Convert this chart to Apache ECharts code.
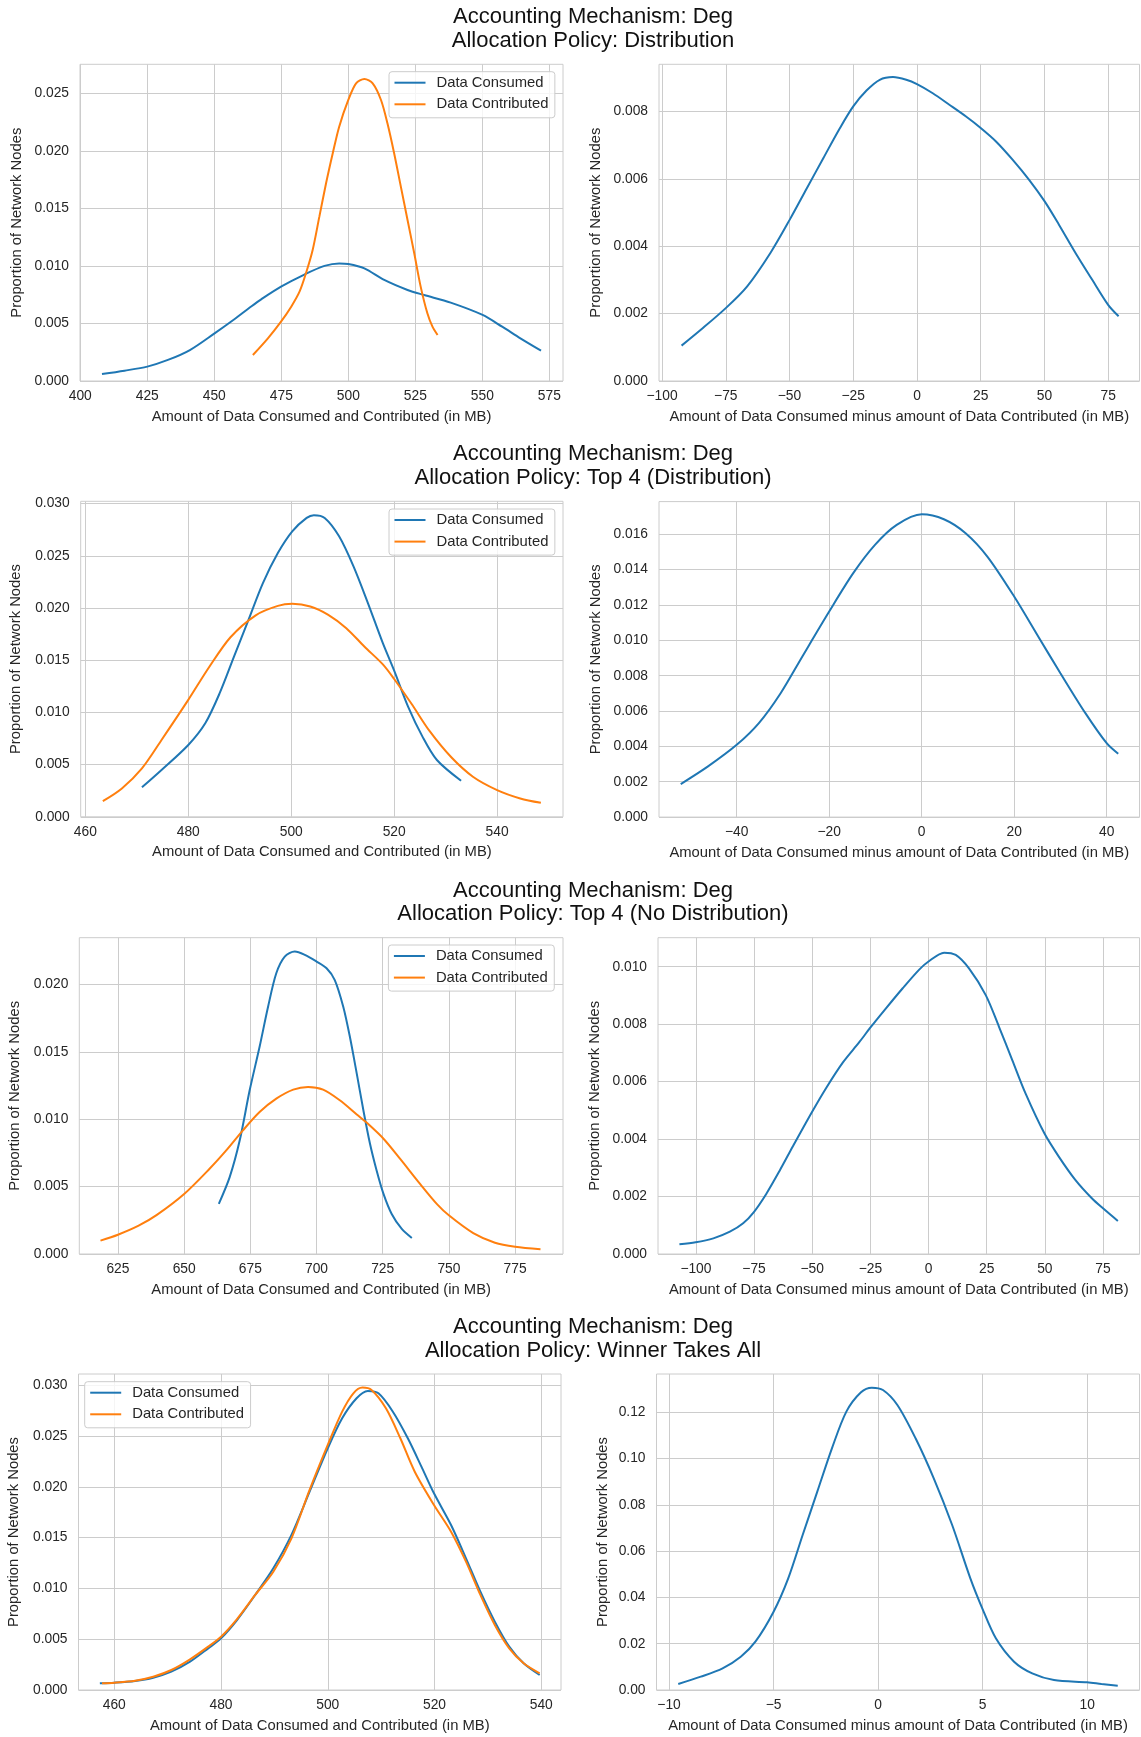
<!DOCTYPE html>
<html><head><meta charset="utf-8">
<script src="https://cdn.jsdelivr.net/npm/echarts@6/dist/echarts.min.js"></script>
<style>html,body{margin:0;padding:0;background:#fff}#c{width:1141px;height:1737px}</style>
</head><body><div id="c"></div><script>
// ---------------- data ----------------
const seriesNames = ['Data Consumed', 'Data Contributed'];
const titles = [
  'Accounting Mechanism: Deg\nAllocation Policy: Distribution',
  'Accounting Mechanism: Deg\nAllocation Policy: Top 4 (Distribution)',
  'Accounting Mechanism: Deg\nAllocation Policy: Top 4 (No Distribution)',
  'Accounting Mechanism: Deg\nAllocation Policy: Winner Takes All'
];
const xNameLeft = 'Amount of Data Consumed and Contributed (in MB)';
const xNameRight = 'Amount of Data Consumed minus amount of Data Contributed (in MB)';
const yName = 'Proportion of Network Nodes';

// Row 1: Distribution
const p1_consumed_x = [408.1,416.5,425.0,432.7,440.9,450.1,457.1,463.9,467.5,474.9,483.6,491.1,496.6,500.0,506.0,513.4,522.1,528.3,538.2,550.1,557.4,564.2,571.9];
const p1_consumed_y = [0.00061,0.0009,0.00125,0.00183,0.00269,0.00414,0.0053,0.0065,0.0071,0.0082,0.00925,0.0100,0.01022,0.01017,0.00979,0.00878,0.00791,0.00747,0.00681,0.00574,0.00472,0.00371,0.00264];
const p1_contributed_x = [464.4,470.0,474.9,478.7,481.8,484.2,486.7,489.2,491.7,494.2,496.6,500.0,502.9,506.0,509.1,512.2,514.6,517.1,519.6,522.1,524.6,527.0,529.5,531.4,533.3];
const p1_contributed_y = [0.00226,0.00371,0.00516,0.00646,0.00776,0.00936,0.01138,0.01428,0.01718,0.01979,0.0221,0.02442,0.02587,0.02625,0.02587,0.02442,0.02239,0.01979,0.01689,0.01399,0.0111,0.0082,0.00588,0.00472,0.004];
const p1_diff_x = [-92.35,-84.8,-74.9,-66.6,-57.5,-49.9,-43.2,-36.7,-30.2,-25.0,-19.8,-14.6,-9.4,-4.2,0.0,6.2,12.7,19.25,25.0,31.0,37.5,44.0,50.1,55.7,62.2,68.7,75.0,79.1];
const p1_diff_y = [0.00105,0.00152,0.00217,0.00281,0.0038,0.00479,0.00572,0.00662,0.00751,0.00815,0.00862,0.00894,0.00902,0.00894,0.00881,0.00854,0.0082,0.00785,0.00751,0.00711,0.00657,0.00597,0.00533,0.00464,0.0038,0.00301,0.00226,0.00192];

// Row 2: Top 4 (Distribution)
const p2_consumed_x = [471.0,474.8,480.0,483.3,486.1,488.9,491.7,494.5,497.4,500.2,503.0,504.4,506.5,509.3,512.1,514.9,517.8,520.0,522.7,525.5,528.3,533.0];
const p2_consumed_y = [0.00282,0.00448,0.00688,0.00896,0.01184,0.01536,0.01887,0.02239,0.02527,0.02735,0.02863,0.02889,0.02863,0.02687,0.02399,0.02047,0.01663,0.0140,0.01056,0.00768,0.00544,0.00345];
const p2_contributed_x = [463.4,467.1,471.0,474.8,480.0,484.0,488.2,493.1,497.4,500.2,503.7,507.2,510.7,514.2,517.8,520.0,523.4,526.9,531.1,535.3,540.0,544.5,548.5];
const p2_contributed_y = [0.0015,0.00272,0.00464,0.00736,0.0112,0.0143,0.0172,0.0193,0.0202,0.0204,0.02015,0.01935,0.01807,0.01631,0.0146,0.0132,0.0108,0.0082,0.0057,0.00384,0.00256,0.00176,0.00134];
const p2_diff_x = [-52.1,-46.2,-40.0,-35.2,-30.5,-25.8,-20.0,-14.8,-10.1,-5.4,0.0,4.8,9.5,14.2,20.0,25.2,30.0,35.4,40.0,42.5];
const p2_diff_y = [0.00187,0.00287,0.00409,0.00532,0.00701,0.00909,0.01163,0.0138,0.0154,0.01653,0.01713,0.01685,0.01606,0.01474,0.01248,0.01022,0.00814,0.00588,0.00418,0.00358];

// Row 3: Top 4 (No Distribution)
const p3_consumed_x = [663.1,667.2,671.0,674.75,678.5,681.7,684.8,688.0,691.8,695.6,700.0,703.8,706.9,710.1,712.6,715.2,717.7,720.2,722.7,725.3,728.4,732.2,736.0];
const p3_consumed_y = [0.00372,0.0057,0.00843,0.01214,0.01537,0.01834,0.02082,0.02206,0.02243,0.02218,0.02169,0.02119,0.02032,0.01834,0.01611,0.01338,0.01066,0.00818,0.0062,0.00446,0.00297,0.00186,0.00119];
const p3_contributed_x = [618.4,625.0,632.8,639.7,650.0,659.6,665.9,672.2,678.5,684.8,691.2,696.8,702.5,708.8,715.2,718.9,725.3,731.6,739.1,745.5,750.1,759.2,767.4,775.0,784.6];
const p3_contributed_y = [0.00099,0.00143,0.0021,0.0029,0.00445,0.00632,0.00768,0.00917,0.01053,0.01152,0.01219,0.01239,0.01219,0.0114,0.01035,0.00975,0.00855,0.00705,0.0052,0.0037,0.00285,0.00155,0.00084,0.00054,0.00035];
const p3_diff_x = [-107.1,-100.1,-92.5,-85.4,-79.7,-75.0,-69.7,-64.0,-58.3,-50.4,-44.0,-36.8,-29.7,-25.3,-18.3,-11.1,-4.0,0.0,6.7,11.7,17.4,24.6,30.3,36.0,41.7,49.8,56.0,63.1,70.2,75.0,81.4];
const p3_diff_y = [0.000336,0.000406,0.000545,0.000777,0.00107,0.00147,0.0021,0.0029,0.00375,0.0049,0.00578,0.00667,0.00738,0.00785,0.00855,0.00925,0.0099,0.01018,0.01049,0.01041,0.00994,0.00901,0.00791,0.00675,0.00559,0.0042,0.00339,0.00258,0.00194,0.00159,0.00115];

// Row 4: Winner Takes All
const p4_consumed_x = [457.3,460.0,463.9,467.3,470.7,474.2,477.6,480.0,483.0,486.4,489.8,493.2,496.6,500.0,502.7,505.4,507.5,509.5,512.2,515.0,517.7,519.9,523.1,525.9,528.6,531.3,534.0,536.7,539.7];
const p4_consumed_y = [0.00066,0.00072,0.00089,0.00121,0.00181,0.00279,0.0041,0.00509,0.00689,0.00936,0.01198,0.01527,0.01953,0.0238,0.02676,0.02873,0.02945,0.02922,0.02741,0.02479,0.02183,0.01937,0.01625,0.01297,0.00968,0.00673,0.00427,0.00263,0.00148];
const p4_contributed_x = [457.7,460.0,463.9,467.3,470.7,474.2,477.6,480.0,483.0,486.4,489.8,493.2,496.6,500.0,502.7,504.8,506.5,508.2,510.9,513.6,516.3,519.9,523.1,525.9,528.6,531.3,534.0,536.7,539.7];
const p4_contributed_y = [0.00066,0.00072,0.00092,0.00131,0.00197,0.00302,0.00427,0.00525,0.00699,0.00936,0.01165,0.01494,0.0197,0.02413,0.02741,0.02922,0.02978,0.02955,0.02774,0.02479,0.0215,0.01822,0.01559,0.01264,0.00936,0.0064,0.0041,0.00263,0.00164];
const p4_diff_x = [-9.56,-8.48,-7.44,-6.57,-5.87,-5.0,-4.3,-3.61,-2.91,-2.21,-1.52,-0.82,-0.3,0.23,0.92,1.79,2.66,3.54,4.41,4.98,5.63,6.5,7.37,8.41,10.0,10.68,11.46];
const p4_diff_y = [0.0026,0.00576,0.00937,0.01441,0.0209,0.03386,0.04827,0.06701,0.08574,0.10447,0.12032,0.12868,0.1307,0.12969,0.1232,0.1088,0.0915,0.07133,0.04827,0.03531,0.02234,0.01225,0.0072,0.00432,0.00331,0.0026,0.00187];

// tick values
const p1L_xticks = [400,425,450,475,500,525,550,575];
const p1L_yticks = [0,0.005,0.01,0.015,0.02,0.025];
const p1R_xticks = [-100,-75,-50,-25,0,25,50,75];
const p1R_yticks = [0,0.002,0.004,0.006,0.008];
const p2L_xticks = [460,480,500,520,540];
const p2L_yticks = [0,0.005,0.01,0.015,0.02,0.025,0.03];
const p2R_xticks = [-40,-20,0,20,40];
const p2R_yticks = [0,0.002,0.004,0.006,0.008,0.01,0.012,0.014,0.016];
const p3L_xticks = [625,650,675,700,725,750,775];
const p3L_yticks = [0,0.005,0.01,0.015,0.02];
const p3R_xticks = [-100,-75,-50,-25,0,25,50,75];
const p3R_yticks = [0,0.002,0.004,0.006,0.008,0.01];
const p4L_xticks = [460,480,500,520,540];
const p4L_yticks = [0,0.005,0.01,0.015,0.02,0.025,0.03];
const p4R_xticks = [-10,-5,0,5,10];
const p4R_yticks = [0,0.02,0.04,0.06,0.08,0.1,0.12];

// ---------------- layout / style ----------------
const FONT = '"Liberation Sans", Arial, Helvetica, sans-serif';
const BLUE = '#1f77b4', ORANGE = '#ff7f0e';
const TXT = '#262626', GRIDC = '#cccccc';
const RL = 1139.5;
const panels = [
  {box:[80,64.3,563,381], xr:[399.9,580.1], yr:[0,0.02752], xt:p1L_xticks, yt:p1L_yticks, yd:3, xn:xNameLeft, yg:56,
   lines:[[p1_consumed_x,p1_consumed_y,0],[p1_contributed_x,p1_contributed_y,1]], legend:[389,71.7]},
  {box:[659,64.3,RL,381], xr:[-101.2,87.3], yr:[0,0.0094], xt:p1R_xticks, yt:p1R_yticks, yd:3, xn:xNameRight, yg:55.6,
   lines:[[p1_diff_x,p1_diff_y,0]]},
  {box:[80.7,501.3,563,816.8], xr:[459.1,552.8], yr:[0,0.03022], xt:p2L_xticks, yt:p2L_yticks, yd:3, xn:xNameLeft, yg:57,
   lines:[[p2_consumed_x,p2_consumed_y,0],[p2_contributed_x,p2_contributed_y,1]], legend:[389,509]},
  {box:[659,501.6,RL,817.1], xr:[-56.8,47.1], yr:[0,0.01785], xt:p2R_xticks, yt:p2R_yticks, yd:3, xn:xNameRight, yg:55.6,
   lines:[[p2_diff_x,p2_diff_y,0]]},
  {box:[79.3,937.7,563,1254], xr:[610.4,793.1], yr:[0,0.02346], xt:p3L_xticks, yt:p3L_yticks, yd:3, xn:xNameLeft, yg:56.6,
   lines:[[p3_consumed_x,p3_consumed_y,0],[p3_contributed_x,p3_contributed_y,1]], legend:[388.4,945]},
  {box:[658,937.7,RL,1254], xr:[-116.3,90.7], yr:[0,0.01101], xt:p3R_xticks, yt:p3R_yticks, yd:3, xn:xNameRight, yg:55.9,
   lines:[[p3_diff_x,p3_diff_y,0]]},
  {box:[78.5,1374,561,1690], xr:[453.3,543.7], yr:[0,0.03112], xt:p4L_xticks, yt:p4L_yticks, yd:3, xn:xNameLeft, yg:56.6,
   lines:[[p4_consumed_x,p4_consumed_y,0],[p4_contributed_x,p4_contributed_y,1]], legend:[84.7,1381.7]},
  {box:[656.5,1374,RL,1690], xr:[-10.6,12.5], yr:[0,0.1366], xt:p4R_xticks, yt:p4R_yticks, yd:2, xn:xNameRight, yg:46,
   lines:[[p4_diff_x,p4_diff_y,0]]}
];
const rowTops = [64.3, 501.3, 937.7, 1374];
const colors = [BLUE, ORANGE];

function fmt(v, d) {
  const s = Math.abs(v).toFixed(d);
  return (v < -1e-12 ? '\u2212' : '') + s;
}

const grids = [], xAxes = [], yAxes = [], series = [], legends = [], graphics = [];
panels.forEach((p, i) => {
  grids.push({left:p.box[0], top:p.box[1], width:p.box[2]-p.box[0], height:p.box[3]-p.box[1],
    show:true, borderColor:GRIDC, borderWidth:1, backgroundColor:'transparent', containLabel:false, outerBoundsMode:'none'});
  xAxes.push({type:'value', gridIndex:i, min:p.xr[0], max:p.xr[1],
    name:p.xn, nameLocation:'middle', nameGap:28,
    nameTextStyle:{fontSize:14.8, color:TXT, fontFamily:FONT},
    axisLine:{show:false}, axisTick:{show:false, customValues:p.xt},
    axisLabel:{customValues:p.xt, formatter:(v)=>fmt(v,0), margin:8, fontSize:13.8, color:TXT, fontFamily:FONT},
    splitLine:{show:true, lineStyle:{color:GRIDC, width:1}}});
  yAxes.push({type:'value', gridIndex:i, min:p.yr[0], max:p.yr[1],
    name:yName, nameLocation:'middle', nameGap:p.yg,
    nameTextStyle:{fontSize:14.8, color:TXT, fontFamily:FONT},
    axisLine:{show:false}, axisTick:{show:false, customValues:p.yt},
    axisLabel:{customValues:p.yt, formatter:(v)=>fmt(v,p.yd), margin:11, fontSize:13.8, color:TXT, fontFamily:FONT},
    splitLine:{show:true, lineStyle:{color:GRIDC, width:1}}});
  p.lines.forEach(([xs, ys, k]) => {
    series.push({type:'line', name:seriesNames[k], xAxisIndex:i, yAxisIndex:i,
      data: xs.map((x, j) => [x, ys[j]]), smooth:0.3, showSymbol:false, symbol:'none',
      lineStyle:{color:colors[k], width:2}, itemStyle:{color:colors[k]}, animation:false, silent:true});
  });
  if (p.legend) {
    legends.push({data:seriesNames, orient:'vertical', left:p.legend[0], top:p.legend[1],
      icon:'rect', itemWidth:31, itemHeight:2, itemGap:6.6, padding:[3.5,6.5,6,5.5],
      backgroundColor:'rgba(255,255,255,0.8)', borderColor:GRIDC, borderWidth:1, borderRadius:3,
      selectedMode:false,
      textStyle:{fontSize:14.8, color:TXT, fontFamily:FONT, lineHeight:15, padding:[0,0,0,6]}});
  }
});
titles.forEach((t, i) => {
  graphics.push({type:'text', x:593, y:rowTops[i]-58.75, silent:true,
    style:{text:t, fontSize:22, fontFamily:FONT, fill:'#111', align:'center', verticalAlign:'top', lineHeight:23.5}});
});

const chart = echarts.init(document.getElementById('c'), null, {renderer:'canvas'});
chart.setOption({
  animation:false, backgroundColor:'#ffffff',
  grid:grids, xAxis:xAxes, yAxis:yAxes, series:series, legend:legends, graphic:graphics
});
</script></body></html>
